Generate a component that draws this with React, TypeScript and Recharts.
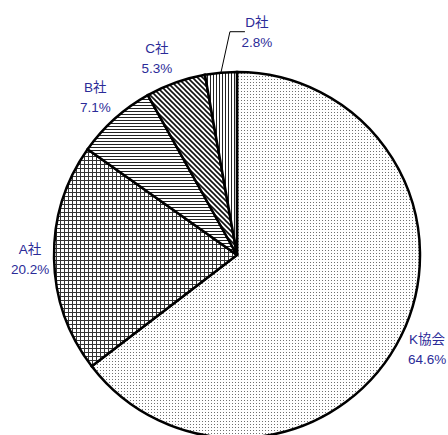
import { PieChart, Pie, Cell } from 'recharts';

const companies = ['K協会', 'A社', 'B社', 'C社', 'D社'];
const shares = [64.6, 20.2, 7.1, 5.3, 2.8];
const patternIds = ['pat-dots', 'pat-grid', 'pat-hlines', 'pat-diag', 'pat-vlines'];

const data = companies.map((name, i) => ({ name, value: shares[i] }));

const RADIAN = Math.PI / 180;
const labelColor = '#2b2b98';
const labelFont = '"Liberation Sans", Arial, "Noto Sans CJK JP", sans-serif';

// small hand tweaks so the labels sit where they do in the original
const nudges: Record<string, [number, number]> = {
  'A社': [5, 0],
  'C社': [-9, 3],
};

function PieLabel(props: any) {
  const { cx, cy, midAngle, outerRadius, name, value } = props;
  const cos = Math.cos(-midAngle * RADIAN);
  const sin = Math.sin(-midAngle * RADIAN);

  if (name === 'D社') {
    // leader line to the thin slice
    const ex = cx + outerRadius * cos;
    const ey = cy + outerRadius * sin;
    const kx = ex + 9;
    const ky = ey - 41;
    const tx = kx + 27;
    return (
      <g>
        <polyline
          points={`${ex},${ey} ${kx},${ky} ${kx + 15},${ky}`}
          fill="none"
          stroke="#000"
          strokeWidth={1}
        />
        <text x={tx} y={ky} textAnchor="middle" fill={labelColor} fontSize={13.5} fontFamily={labelFont}>
          <tspan x={tx} dy={-5}>{name}</tspan>
          <tspan x={tx} dy={20}>{`${value.toFixed(1)}%`}</tspan>
        </text>
      </g>
    );
  }

  const r = outerRadius + 29;
  const [dx, dy] = nudges[name] || [0, 0];
  const x = cx + r * cos + dx;
  const y = cy + r * sin + dy;
  return (
    <text x={x} y={y} textAnchor="middle" fill={labelColor} fontSize={13.5} fontFamily={labelFont}>
      <tspan x={x} dy={-5}>{name}</tspan>
      <tspan x={x} dy={20}>{`${value.toFixed(1)}%`}</tspan>
    </text>
  );
}

function Patterns() {
  return (
    <svg width={0} height={0} style={{ position: 'absolute' }}>
      <defs>
        <pattern id="pat-dots" width={3} height={3} patternUnits="userSpaceOnUse">
          <rect width={3} height={3} fill="#fff" />
          <rect x={1} y={1} width={1} height={1} fill="#707070" />
        </pattern>
        <pattern id="pat-grid" width={4} height={4} patternUnits="userSpaceOnUse">
          <rect width={4} height={4} fill="#fff" />
          <rect x={0} y={0} width={4} height={1} fill="#333" />
          <rect x={0} y={0} width={1} height={4} fill="#333" />
        </pattern>
        <pattern id="pat-hlines" width={3} height={3} patternUnits="userSpaceOnUse">
          <rect width={3} height={3} fill="#fff" />
          <rect x={0} y={0} width={3} height={1} fill="#222" />
        </pattern>
        <pattern id="pat-diag" width={5} height={5} patternUnits="userSpaceOnUse">
          <rect width={5} height={5} fill="#fff" />
          <path d="M-1,-1 L6,6 M-1,4 L1,6 M4,-1 L6,1" stroke="#111" strokeWidth={1.6} />
        </pattern>
        <pattern id="pat-vlines" width={3} height={3} patternUnits="userSpaceOnUse">
          <rect width={3} height={3} fill="#fff" />
          <rect x={0} y={0} width={1} height={3} fill="#222" />
        </pattern>
      </defs>
    </svg>
  );
}

export default function App() {
  return (
    <div style={{ position: 'absolute', left: 0, top: 0, width: 448, height: 435, background: '#fff' }}>
      <Patterns />
      <PieChart width={448} height={435} margin={{ top: 0, right: 0, bottom: 0, left: 0 }}>
        <Pie
          data={data}
          dataKey="value"
          nameKey="name"
          cx={237}
          cy={255}
          outerRadius={183}
          startAngle={90}
          endAngle={-270}
          stroke="#000"
          strokeWidth={2.5}
          label={PieLabel}
          labelLine={false}
          isAnimationActive={false}
        >
          {data.map((entry, index) => (
            <Cell key={`cell-${index}`} fill={`url(#${patternIds[index]})`} />
          ))}
        </Pie>
      </PieChart>
    </div>
  );
}
